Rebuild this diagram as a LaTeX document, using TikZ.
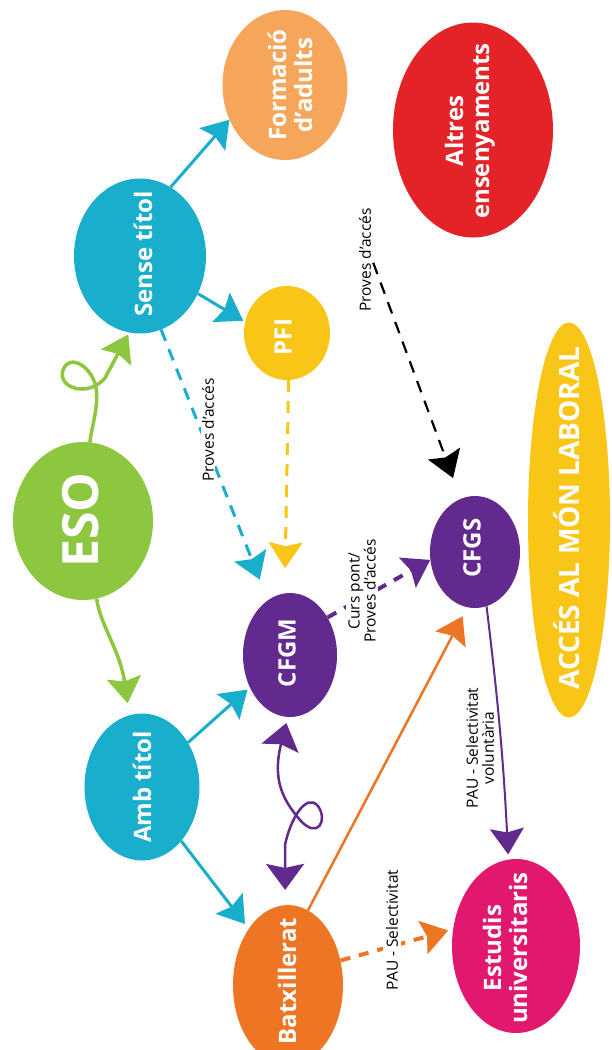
\documentclass[tikz,border=0pt]{standalone}
\usepackage{fontspec}
\setmainfont{Open Sans}
\usetikzlibrary{shapes.geometric,arrows.meta}
\definecolor{cgreen}{HTML}{8DC63F}
\definecolor{ccyan}{HTML}{19AECB}
\definecolor{clorange}{HTML}{F5A65B}
\definecolor{cyellow}{HTML}{F9C618}
\definecolor{cred}{HTML}{E42328}
\definecolor{cpurple}{HTML}{62298E}
\definecolor{corange}{HTML}{EE7524}
\definecolor{cmagenta}{HTML}{E2186F}
\begin{document}
\begin{tikzpicture}[x=1pt,y=-1pt,
  blob/.style={ellipse, inner sep=0pt, draw=none},
  ntext/.style={rotate=90, text=white, font=\bfseries\fontsize{24}{26}\selectfont, align=center, inner sep=0pt},
  slabel/.style={rotate=90, text=black, font=\fontsize{15.5}{16}\selectfont, align=center, inner sep=1pt},
  bigtip/.style={-{Stealth[length=26pt,width=34pt,inset=4pt]}},
  dbltip/.style={{Stealth[length=26pt,width=38pt,inset=4pt]}-{Stealth[length=26pt,width=38pt,inset=4pt]}},
  dsh/.style={dash pattern=on 12pt off 9pt},
]
\useasboundingbox (0,0) rectangle (611,1050);
\clip (0,0) rectangle (611,1050);
\fill[white] (0,0) rectangle (611,1050);

% blobs
\node[blob, fill=cgreen, minimum width=140pt, minimum height=158pt] (eso) at (83,521) {};
\node[blob, fill=ccyan, minimum width=132pt, minimum height=155pt] (sense) at (140,256) {};
\node[blob, fill=clorange, minimum width=125pt, minimum height=150pt] (formacio) at (285,85) {};
\node[blob, fill=cyellow, minimum width=86pt, minimum height=94pt] (pfi) at (287,333) {};
\node[blob, fill=cred, minimum width=160pt, minimum height=215pt] (altres) at (473,130) {};
\node[blob, fill=cyellow, minimum width=82pt, minimum height=395pt] (laboral) at (569,520) {};
\node[blob, fill=cpurple, minimum width=90pt, minimum height=112pt] (cfgs) at (475,552) {};
\node[blob, fill=cpurple, minimum width=94pt, minimum height=124pt] (cfgm) at (290,655) {};
\node[blob, fill=ccyan, minimum width=115pt, minimum height=147pt] (amb) at (142,787) {};
\node[blob, fill=corange, minimum width=110pt, minimum height=160pt] (batx) at (288,985) {};
\node[blob, fill=cmagenta, minimum width=128pt, minimum height=174pt] (estudis) at (516,946) {};

% connectors
\draw[cgreen, line width=3.5pt, line cap=round, bigtip, shorten >=2pt]
  (eso.85) .. controls (92,425) and (99,405) .. (96,388)
  .. controls (93,368) and (70,352) .. (63,370)
  .. controls (57,388) and (88,398) .. (105,378) -- (sense.262);
\draw[cgreen, line width=3.5pt, bigtip, shorten >=12pt]
  (eso.280) .. controls (100,625) and (120,650) .. (amb.100);

\draw[ccyan, line width=3pt, bigtip] (sense.66) -- (formacio.212);
\draw[ccyan, line width=3pt, bigtip, shorten >=2pt] (sense.327) -- (pfi.165);
\draw[ccyan, line width=3pt, bigtip, dsh, shorten >=22pt] (sense.286) -- (cfgm.112);
\draw[cyellow, line width=3pt, bigtip, dsh, shorten >=25pt] (pfi.272) -- (cfgm.95);

\draw[ccyan, line width=3pt, bigtip, shorten >=3pt] (amb.44) -- (cfgm.219);
\draw[ccyan, line width=3pt, bigtip, shorten >=6pt] (amb.306) -- (batx.125);

\draw[cpurple, line width=4pt, bigtip, dash pattern=on 10pt off 9pt] (cfgm.45) -- (cfgs.190);
\draw[corange, line width=2.5pt, bigtip, shorten >=10pt] (batx.75) -- (cfgs.262);
\draw[cpurple, line width=2pt, bigtip, shorten >=5pt] (cfgs.282) to[bend left=2] (estudis.95);
\draw[corange, line width=4pt, bigtip, dash pattern=on 10pt off 9pt, shorten >=5pt] (batx.25) -- (estudis.165);

\draw[cpurple, line width=2.5pt, dbltip, shorten <=6pt, shorten >=15pt]
  (cfgm.268) .. controls (272,780) and (283,800) .. (300,820)
  .. controls (318,840) and (328,820) .. (318,806)
  .. controls (306,792) and (290,820) .. (285,845) -- (batx.92);

% small labels
\node[slabel, fill=white] (plL) at (208,430) {Proves d’accés};
\node[slabel] (plR) at (365,260) {Proves d’accés};
\draw[black, line width=2.2pt, bigtip, dsh, shorten <=3pt, shorten >=22pt] (plR.south) -- (cfgs.105);
\node[slabel, fill=white, inner sep=2pt] (curs) at (362,591) {Curs pont/\\Proves d’accés};
\node[slabel] (pauv) at (480,748) {PAU - Selectivitat\\voluntària};
\node[slabel, fill=white, inner sep=3pt] (pau) at (392,930) {PAU - Selectivitat};

% node texts
\node[ntext, font=\bfseries\fontsize{50}{52}\selectfont] (esoT) at (81,520) {ESO};
\node[ntext] (senseT) at (143,254) {Sense títol};
\node[ntext] (formacioT) at (290,85) {Formació\\d’adults};
\node[ntext] (pfiT) at (283,337) {PFI};
\node[ntext] (altresT) at (470,131) {Altres\\ensenyaments};
\node[ntext, font=\bfseries\fontsize{28}{30}\selectfont] (laboralT) at (567,518) {ACCÉS AL MÓN LABORAL};
\node[ntext] (cfgsT) at (472,548) {CFGS};
\node[ntext] (cfgmT) at (287,653) {CFGM};
\node[ntext] (ambT) at (142,787) {Amb títol};
\node[ntext] (batxT) at (287,981) {Batxillerat};
\node[ntext] (estudisT) at (505,948) {Estudis\\universitaris};
\end{tikzpicture}
\end{document}
